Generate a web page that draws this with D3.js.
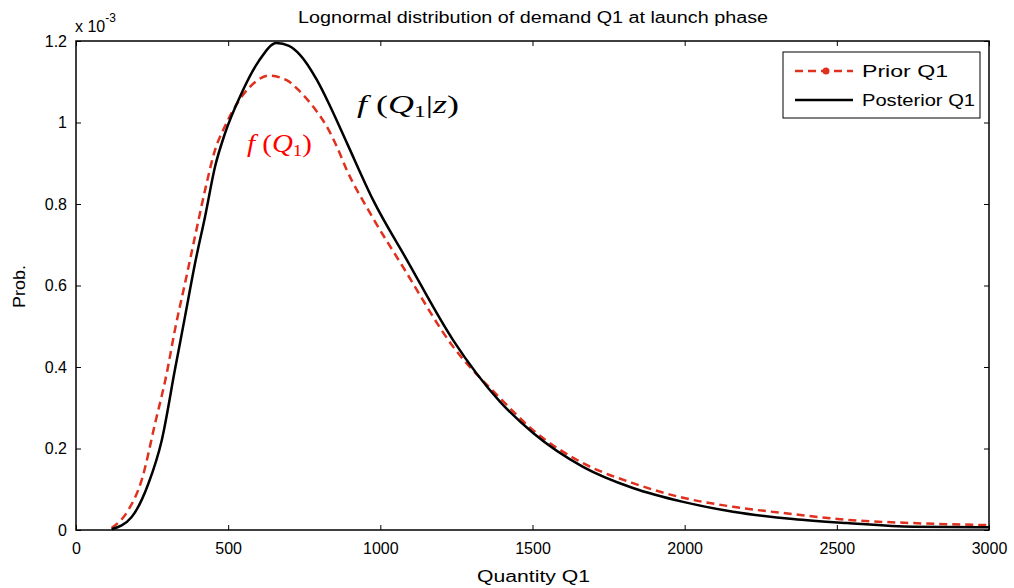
<!DOCTYPE html>
<html><head><meta charset="utf-8">
<script src="https://cdn.jsdelivr.net/npm/d3@7"></script>
<style>
body{margin:0;background:#fff;}
svg{display:block;}
text{font-family:"Liberation Sans",Arial,sans-serif;}
</style></head>
<body><svg id="c" width="1014" height="588"></svg>
<script>
// Values in units of 1e-3
const priorQ = [117,172,216,260,298,325,358,391,424,457,489,544,590,631,692,736,779,824,857,890,966,1074,1239,1393,1502,1666,1830,1995,2159,2356,2533,2750,3000];
const priorP = [0.005,0.049,0.123,0.262,0.384,0.491,0.605,0.720,0.834,0.933,0.990,1.063,1.100,1.115,1.104,1.076,1.039,0.990,0.941,0.883,0.778,0.646,0.450,0.324,0.245,0.164,0.115,0.079,0.057,0.039,0.025,0.017,0.012];
const postQ = [117,183,238,282,325,358,391,424,457,489,544,600,659,700,736,791,835,890,976,1087,1239,1393,1502,1666,1830,1995,2159,2356,2533,2750,3000];
const postP = [0.002,0.032,0.114,0.221,0.393,0.523,0.654,0.769,0.892,0.972,1.072,1.150,1.195,1.188,1.166,1.105,1.040,0.950,0.810,0.663,0.466,0.315,0.238,0.155,0.103,0.069,0.045,0.027,0.017,0.008,0.007];
const xTicks = [0,500,1000,1500,2000,2500,3000];
const yTicks = [0,0.2,0.4,0.6,0.8,1.0,1.2];
const seriesNames = ["Prior Q1","Posterior Q1"];
const titleText = "Lognormal distribution of demand Q1 at launch phase";

const svg = d3.select("#c");
const L=76,R=989,T=41,B=530;
const x = d3.scaleLinear().domain([0,3000]).range([L,R]);
const y = d3.scaleLinear().domain([0,1.2]).range([B,T]);
const red = "#e0301e";

// axes
const fmtY = d => d===0?"0":(d===1?"1":d3.format(".1f")(d));
const gx = svg.append("g").attr("transform",`translate(0,${B})`)
  .call(d3.axisBottom(x).tickValues(xTicks).tickSize(-5).tickPadding(13).tickFormat(d3.format("d")));
const gxt = svg.append("g").attr("transform",`translate(0,${T})`)
  .call(d3.axisTop(x).tickValues(xTicks).tickSize(-5).tickFormat(""));
const gy = svg.append("g").attr("transform",`translate(${L},0)`)
  .call(d3.axisLeft(y).tickValues(yTicks).tickSize(-5).tickPadding(9).tickFormat(fmtY));
const gyr = svg.append("g").attr("transform",`translate(${R},0)`)
  .call(d3.axisRight(y).tickValues(yTicks).tickSize(-5).tickFormat(""));
[gx,gxt,gy,gyr].forEach(g=>{
  g.select(".domain").remove();
  g.selectAll(".tick line").attr("stroke","#000").attr("stroke-width",1);
  g.selectAll("text").attr("font-size",16).attr("fill","#000").attr("font-family","Liberation Sans, Arial, sans-serif");
});
svg.append("rect").attr("x",L).attr("y",T).attr("width",R-L).attr("height",B-T)
  .attr("fill","none").attr("stroke","#000").attr("stroke-width",1.5);

// lines
const line = d3.line().x(d=>x(d[0])).y(d=>y(d[1])).curve(d3.curveMonotoneX);
const priorData = priorQ.map((q,i)=>[q,priorP[i]]);
const postData = postQ.map((q,i)=>[q,postP[i]]);
svg.append("path").datum(priorData).attr("d",line).attr("fill","none")
  .attr("stroke",red).attr("stroke-width",2.5).attr("stroke-dasharray","8,5");
svg.append("path").datum(postData).attr("d",line).attr("fill","none")
  .attr("stroke","#000").attr("stroke-width",2.5);

// title & labels
svg.append("text").attr("x",298).attr("y",23).attr("font-size",16)
  .attr("textLength",470).attr("lengthAdjust","spacingAndGlyphs").text(titleText);
svg.append("text").attr("x",477).attr("y",582).attr("font-size",16)
  .attr("textLength",113).attr("lengthAdjust","spacingAndGlyphs").text("Quantity Q1");
svg.append("text").attr("transform","translate(25,308) rotate(-90)").attr("font-size",16)
  .attr("textLength",43).attr("lengthAdjust","spacingAndGlyphs").text("Prob.");
const ex = svg.append("text").attr("x",75).attr("y",32).attr("font-size",16);
ex.append("tspan").text("x 10");
ex.append("tspan").attr("dy",-10).attr("font-size",12).text("-3");

// legend
const lg = svg.append("g");
lg.append("rect").attr("x",783).attr("y",52).attr("width",197).attr("height",66)
  .attr("fill","#fff").attr("stroke","#000").attr("stroke-width",1);
lg.append("line").attr("x1",795).attr("x2",853).attr("y1",71).attr("y2",71)
  .attr("stroke",red).attr("stroke-width",2.5).attr("stroke-dasharray","8,5");
lg.append("circle").attr("cx",826).attr("cy",71).attr("r",3.5).attr("fill",red);
lg.append("line").attr("x1",795).attr("x2",853).attr("y1",100).attr("y2",100)
  .attr("stroke","#000").attr("stroke-width",2.5);
lg.append("text").attr("x",862).attr("y",77).attr("font-size",16)
  .attr("textLength",86).attr("lengthAdjust","spacingAndGlyphs").text(seriesNames[0]);
lg.append("text").attr("x",862).attr("y",106).attr("font-size",16)
  .attr("textLength",113).attr("lengthAdjust","spacingAndGlyphs").text(seriesNames[1]);

// annotations
function ann(xp,yp,len,col,withZ){
  const t = svg.append("text").attr("x",xp).attr("y",yp).attr("font-size",26)
    .attr("fill",col).style("font-family","Liberation Serif, Times New Roman, serif")
    .attr("textLength",len).attr("lengthAdjust","spacingAndGlyphs");
  t.append("tspan").attr("font-style","italic").text("f");
  t.append("tspan").text(" (");
  t.append("tspan").attr("font-style","italic").text("Q");
  t.append("tspan").attr("font-size",17).attr("dy",4).text("1");
  if(withZ){
    t.append("tspan").attr("dy",-4).text("|");
    t.append("tspan").attr("font-style","italic").text("z");
    t.append("tspan").text(")");
  } else {
    t.append("tspan").attr("dy",-4).text(")");
  }
}
ann(357,113,102,"#000",true);
ann(247,152,65,"#ff0000",false);
</script></body></html>
